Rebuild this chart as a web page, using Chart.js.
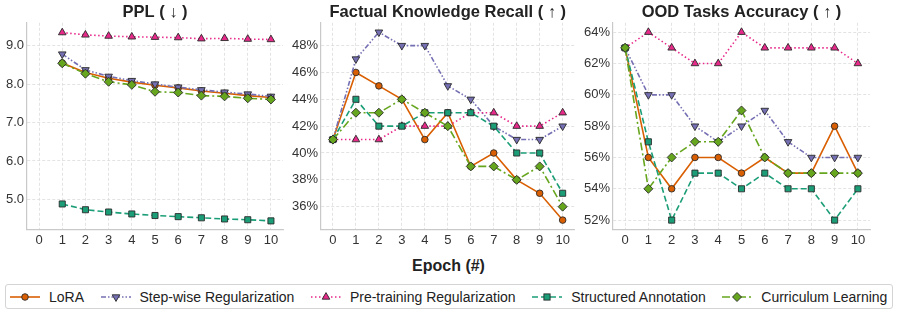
<!DOCTYPE html>
<html lang="en">
<head>
<meta charset="UTF-8">
<title>Epoch curves</title>
<script src="https://cdn.jsdelivr.net/npm/chart.js"></script>
<style>
  body { margin: 0; background: #fff; font-family: "Liberation Sans", Arial, sans-serif; }
  .page { position: relative; width: 897px; height: 314px; overflow: hidden; }
  .panel { position: absolute; top: 0; }
  #xTitle { position: absolute; left: 0; width: 897px; top: 256px; text-align: center;
            font-weight: bold; font-size: 16px; color: #222; line-height: 20px; }
  #legend { position: absolute; left: 5px; top: 284px; width: 888px; height: 25px; box-sizing: border-box;
            border: 1px solid #d4d4d4; border-radius: 3px; display: flex; align-items: center;
            font-size: 14px; color: #222; }
  .item { display: flex; align-items: center; margin-left: 16.5px; }
  .item:first-child { margin-left: 4px; }
  .item svg { margin-right: 9px; }
</style>
</head>
<body>
<div class="page">
  <canvas id="ppl" class="panel" width="290" height="252" style="left:0px"></canvas>
  <canvas id="fact" class="panel" width="290" height="252" style="left:290px"></canvas>
  <canvas id="ood" class="panel" width="317" height="252" style="left:580px"></canvas>
  <div id="xTitle">Epoch (#)</div>
  <div id="legend"></div>
</div>
<script>
const FONT = '"Liberation Sans", Arial, sans-serif';

const epochs = [0, 1, 2, 3, 4, 5, 6, 7, 8, 9, 10];
const methods = ['LoRA', 'Step-wise Regularization', 'Pre-training Regularization',
                 'Structured Annotation', 'Curriculum Learning'];

// PPL (lower is better), no value at epoch 0
const pplLora       = [null, 8.55, 8.30, 8.15, 8.05, 7.97, 7.90, 7.82, 7.76, 7.70, 7.65];
const pplStepwise   = [null, 8.78, 8.37, 8.20, 8.09, 8.00, 7.92, 7.85, 7.79, 7.74, 7.68];
const pplPretrain   = [null, 9.34, 9.28, 9.25, 9.23, 9.22, 9.21, 9.18, 9.19, 9.17, 9.16];
const pplStructured = [null, 4.88, 4.73, 4.67, 4.62, 4.58, 4.55, 4.52, 4.49, 4.47, 4.44];
const pplCurriculum = [null, 8.54, 8.27, 8.06, 7.98, 7.80, 7.78, 7.70, 7.68, 7.63, 7.60];

// Factual knowledge recall (%)
const factLora       = [41, 46, 45, 44, 41, 43, 39, 40, 38, 37, 35];
const factStepwise   = [41, 47, 49, 48, 48, 45, 44, 42, 41, 41, 42];
const factPretrain   = [41, 41, 41, 42, 42, 42, 43, 43, 42, 42, 43];
const factStructured = [41, 44, 42, 42, 43, 43, 43, 42, 40, 40, 37];
const factCurriculum = [41, 43, 43, 44, 43, 42, 39, 39, 38, 39, 36];

// OOD tasks accuracy (%)
const oodLora       = [63, 56, 54, 56, 56, 55, 56, 55, 55, 58, 55];
const oodStepwise   = [63, 60, 60, 58, 57, 58, 59, 57, 56, 56, 56];
const oodPretrain   = [63, 64, 63, 62, 62, 64, 63, 63, 63, 63, 62];
const oodStructured = [63, 57, 52, 55, 55, 54, 55, 54, 54, 52, 54];
const oodCurriculum = [63, 54, 56, 57, 57, 59, 56, 55, 55, 55, 55];

const styles = [
  { color: '#d95f02', dash: [],                   point: 'circle',   r: 3.3, rot: 0 },
  { color: '#7570b3', dash: [5, 2, 1.5, 2, 1.5, 2], point: 'triangle', r: 4.4, rot: 180 },
  { color: '#e7298a', dash: [1.5, 2.5],           point: 'triangle', r: 4.4, rot: 0 },
  { color: '#1b9e77', dash: [6, 3],               point: 'rect',     r: 4.3, rot: 0 },
  { color: '#66a61e', dash: [8, 3, 2, 3],         point: 'rectRot',  r: 4.5, rot: 0 }
];

function makeDatasets(series) {
  return series.map((vals, i) => ({
    label: methods[i],
    data: epochs.map((e, k) => ({ x: e, y: vals[k] })),
    borderColor: styles[i].color,
    backgroundColor: styles[i].color,
    borderWidth: 1.6,
    borderDash: styles[i].dash,
    pointStyle: styles[i].point,
    pointRotation: styles[i].rot,
    pointRadius: styles[i].r,
    pointBorderColor: '#2a2a2a',
    pointBorderWidth: 0.9,
    pointBackgroundColor: styles[i].color,
    tension: 0,
    spanGaps: false,
    order: series.length - i
  }));
}

function makeChart(id, series, o) {
  new Chart(document.getElementById(id), {
    type: 'line',
    data: { datasets: makeDatasets(series) },
    options: {
      responsive: false,
      animation: false,
      layout: { padding: { left: 0, right: o.padRight, top: 0, bottom: 0 } },
      plugins: {
        legend: { display: false },
        tooltip: { enabled: false },
        title: {
          display: true, text: o.title, color: '#222', fullSize: false,
          font: { family: FONT, size: 16.5, weight: 'bold' },
          padding: { top: 3, bottom: 0 }
        }
      },
      scales: {
        x: {
          type: 'linear', min: -0.52, max: 10.52,
          afterFit: s => { s.height = 22.5; },
          ticks: { stepSize: 1, includeBounds: false, color: '#333', padding: 3,
                   font: { family: FONT, size: 13 }, maxRotation: 0, autoSkip: false },
          grid: { color: '#dcdcdc', lineWidth: 0.8, drawTicks: false },
          border: { color: '#c9c9c9', width: 1.2, dash: [3, 2] }
        },
        y: {
          min: o.min, max: o.max,
          afterFit: s => { s.width = o.yWidth; },
          ticks: { stepSize: o.step, includeBounds: false, color: '#333', padding: 3,
                   font: { family: FONT, size: 13 }, callback: o.fmt },
          grid: { color: '#dcdcdc', lineWidth: 0.8, drawTicks: false },
          border: { color: '#c9c9c9', width: 1.2, dash: [3, 2] }
        }
      }
    }
  });
}

makeChart('ppl', [pplLora, pplStepwise, pplPretrain, pplStructured, pplCurriculum], {
  title: 'PPL ( \u2193 )', min: 4.2155, max: 9.5945, step: 1,
  fmt: v => v.toFixed(1), yWidth: 27, padRight: 7
});
makeChart('fact', [factLora, factStepwise, factPretrain, factStructured, factCurriculum], {
  title: 'Factual Knowledge Recall ( \u2191 )', min: 34.3, max: 49.7, step: 2,
  fmt: v => v + '%', yWidth: 31, padRight: 3
});
makeChart('ood', [oodLora, oodStepwise, oodPretrain, oodStructured, oodCurriculum], {
  title: 'OOD Tasks Accuracy ( \u2191 )', min: 51.4, max: 64.6, step: 2,
  fmt: v => v + '%', yWidth: 33, padRight: 27
});

// legend: line sample with marker in the middle
function markerSvg(s) {
  const f = `fill="${s.color}" stroke="#2a2a2a" stroke-width="0.9"`;
  if (s.point === 'circle') return `<circle cx="15" cy="6" r="3.3" ${f}/>`;
  if (s.point === 'rect') return `<rect x="11.9" y="2.9" width="6.2" height="6.2" ${f}/>`;
  if (s.point === 'rectRot') return `<polygon points="15,1.5 19.5,6 15,10.5 10.5,6" ${f}/>`;
  if (s.rot === 180) return `<polygon points="11.2,3.8 18.8,3.8 15,10.4" ${f}/>`;
  return `<polygon points="15,1.6 18.8,8.2 11.2,8.2" ${f}/>`;
}
const legend = document.getElementById('legend');
methods.forEach((name, i) => {
  const s = styles[i];
  const item = document.createElement('div');
  item.className = 'item';
  item.innerHTML =
    `<svg width="30" height="12"><line x1="0" y1="6" x2="30" y2="6" stroke="${s.color}" stroke-width="1.6" stroke-dasharray="${s.dash.join(' ') || 'none'}"/>${markerSvg(s)}</svg><span>${name}</span>`;
  legend.appendChild(item);
});
</script>
</body>
</html>
